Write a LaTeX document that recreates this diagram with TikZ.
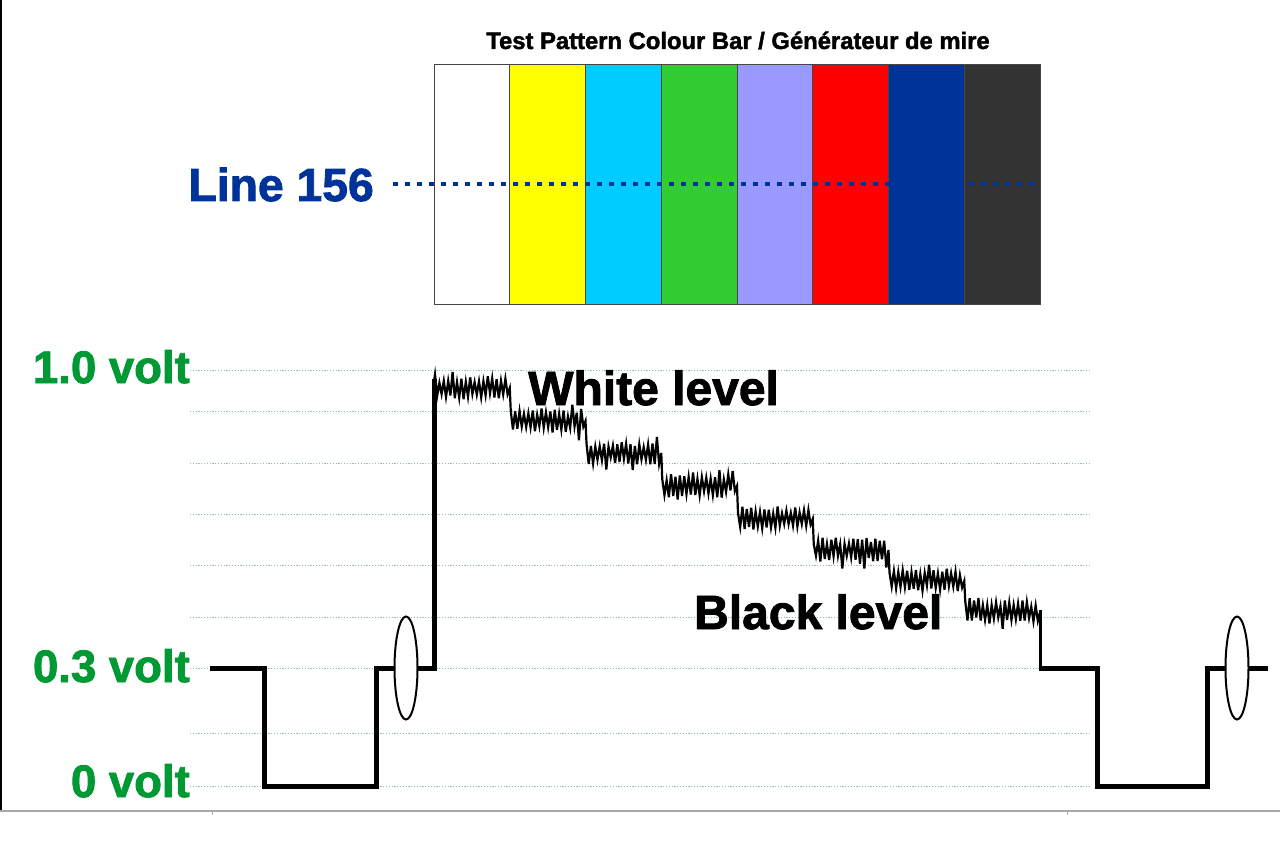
\documentclass[tikz,border=0pt]{standalone}
\usepackage{fontspec}
\setmainfont{Liberation Sans}
\newfontfamily\heavy{Liberation Sans}[BoldFeatures={FakeBold=1.8}]
\usetikzlibrary{shapes.geometric}
\definecolor{voltgreen}{HTML}{009933}
\definecolor{linebl}{HTML}{003399}
\definecolor{gridc}{HTML}{8CC4A0}
\definecolor{axisg}{HTML}{A8A8A8}
\definecolor{yellowbar}{HTML}{FFFF00}
\definecolor{cyanbar}{HTML}{00CCFF}
\definecolor{greenbar}{HTML}{33CC33}
\definecolor{lavbar}{HTML}{9999FF}
\definecolor{redbar}{HTML}{FF0000}
\definecolor{bluebar}{HTML}{003399}
\definecolor{greybar}{HTML}{333333}
\tikzset{
  bar/.style={draw={rgb,255:red,70;green,70;blue,70}, line width=1pt},
  gridln/.style={draw=gridc, line width=1pt, dash pattern=on 1.2pt off 1.6pt},
  volt/.style={font=\heavy\bfseries\fontsize{45.5}{48}\selectfont, text=voltgreen, inner sep=0pt, anchor=base east},
  lvl/.style={font=\heavy\bfseries\fontsize{48}{50}\selectfont, inner sep=0pt, anchor=base west},
  sync/.style={line width=5pt, line join=miter},
  sep/.style={ellipse, draw, fill=white, line width=2pt, minimum width=23pt, minimum height=103pt, inner sep=0pt}
}
\begin{document}
\begin{tikzpicture}[x=1pt,y=-1pt]
\useasboundingbox (0,0) rectangle (1280,853);
\fill[white] (0,0) rectangle (1280,853);
% frame
\draw[line width=1.5pt] (0.75,0) -- (0.75,811);
\draw[axisg, line width=1.5pt] (0,811) -- (1280,811);
\draw[axisg, line width=1pt] (212,811) -- (212,815) (1067,811) -- (1067,815);
% title
\node[font=\heavy\bfseries\fontsize{23.8}{26}\selectfont, inner sep=0pt, anchor=base] (title) at (738,49) {Test Pattern Colour Bar / Générateur de mire};
% colour bars
\foreach \c [count=\i from 0] in {white,yellowbar,cyanbar,greenbar,lavbar,redbar,bluebar,greybar}{
  \path[bar, fill=\c] ({434+75.75*\i},65) rectangle ({434+75.75*(\i+1)},304);
}
% line 156
\node[font=\heavy\bfseries\fontsize{46.3}{50}\selectfont, text=linebl, inner sep=0pt, anchor=base east] (l156) at (374,201) {Line 156};
\coordinate (ls) at (393,184);
\coordinate (le) at (1040,184);
\draw[linebl, line width=4.8pt, dash pattern=on 4.8pt off 7.2pt] (ls) -- (le);
% grid
\foreach \yy in {370,411,463,514,565,617,668,733,786}{
  \draw[gridln] (190,\yy) -- (1090,\yy);
}
% volt labels
\node[volt] (v1) at (190,383) {1.0 volt};
\node[volt] (v03) at (190,682) {0.3 volt};
\node[volt] (v0) at (190,797) {0 volt};
% waveform left sync
\draw[sync] (210,668) -- (264,668) -- (264,786) -- (376,786) -- (376,668) -- (434,668) -- (434,379);
% noisy staircase: build path point by point
\pgfmathsetseed{11}
\gdef\noisepath{(434,381)}
\foreach \k/\lev in {0/388,1/421,2/453,3/486,4/519,5/550,6/581,7/612}{
  \foreach \j in {0,...,33}{
    \pgfmathsetmacro\ra{rnd}
    \pgfmathsetmacro\rb{rnd}
    \pgfmathsetmacro\xx{434+75.75*\k+1+2.2*\j}
    \pgfmathsetmacro\sg{ifthenelse(mod(\j,2)==0,-1,1)}
    \pgfmathsetmacro\yy{\lev+\sg*(5+7*\ra+ifthenelse(\rb>0.8,7*\ra,0))+1.5*(\rb-0.5)}
    \xdef\noisepath{\noisepath -- (\xx,\yy)}
  }
  \pgfmathsetmacro\xe{434+75.75*(\k+1)}
  \xdef\noisepath{\noisepath -- (\xe,\lev)}
}
\draw[line width=2.2pt, line join=miter, miter limit=8] \noisepath -- (1040,612) coordinate (dropend);
\draw[line width=3pt] (1040,610) -- (1040,668);
% right sync
\draw[sync] (1039,668) -- (1097,668) -- (1097,786) -- (1207,786) -- (1207,668) -- (1268,668);
% separators
\node[sep] (e1) at (406,668) {};
\node[sep] (e2) at (1237,668) {};
% level labels
\node[lvl] (white) at (528,405) {White level};
\node[lvl] (black) at (694,629) {Black level};
\end{tikzpicture}
\end{document}
